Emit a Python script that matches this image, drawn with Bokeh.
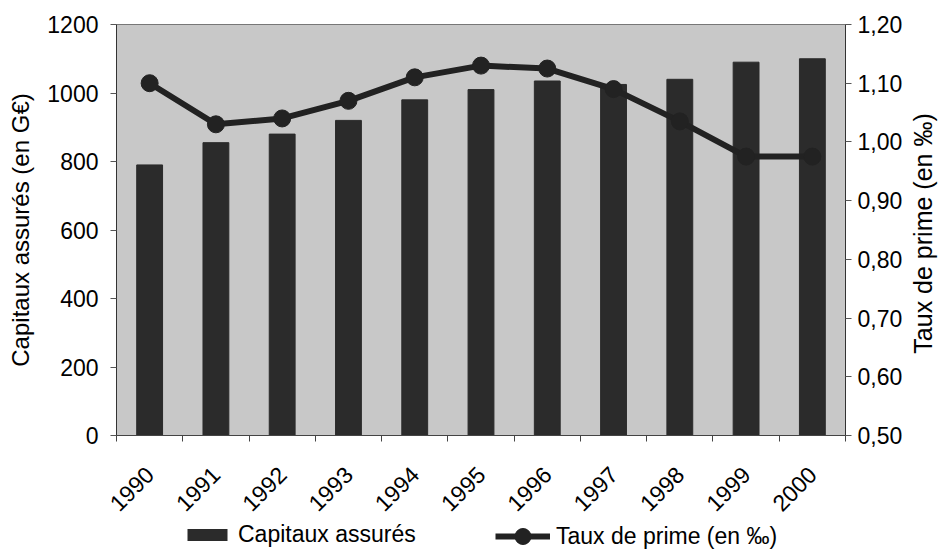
import math
from bokeh.plotting import figure
from bokeh.layouts import column, row
from bokeh.models import (Range1d, LinearAxis, FixedTicker, CustomJSTickFormatter,
                          Legend, LegendItem, ColumnDataSource)
from bokeh.embed import file_html
from bokeh.resources import INLINE

years = ["1990", "1991", "1992", "1993", "1994", "1995", "1996", "1997", "1998", "1999", "2000"]
capitaux = [790, 855, 880, 920, 980, 1010, 1035, 1025, 1040, 1090, 1100]
taux = [1.10, 1.03, 1.04, 1.07, 1.11, 1.13, 1.125, 1.09, 1.035, 0.975, 0.975]
left_ticks = [0, 200, 400, 600, 800, 1000, 1200]
right_ticks = [0.50, 0.60, 0.70, 0.80, 0.90, 1.00, 1.10, 1.20]
series_names = ["Capitaux assurés", "Taux de prime (en ‰)"]
left_title = "Capitaux assurés (en G€)"
right_title = "Taux de prime  (en ‰)"

FONT = "Liberation Sans"
DARK = "#2b2b2b"
LINEC = "#222222"

xc = [i + 0.5 for i in range(len(years))]
bounds = list(range(len(years) + 1))
src = ColumnDataSource(dict(x=xc, cap=capitaux, taux=taux))

P_H = 522
TOTAL_H = 549
BORDER_TOP = 24
BORDER_BOTTOM = 87
p = figure(width=905, height=P_H, output_backend="svg", toolbar_location=None,
           x_range=Range1d(0, len(years)), y_range=Range1d(0, 1200),
           min_border_left=116, min_border_right=57,
           min_border_top=BORDER_TOP, min_border_bottom=BORDER_BOTTOM)
p.extra_y_ranges = {"rate": Range1d(0.5, 1.2)}

p.background_fill_color = "#c8c8c8"
p.border_fill_color = "white"
p.outline_line_color = "#777777"
p.outline_line_width = 1
p.xgrid.visible = False
p.ygrid.visible = False

p.vbar(x="x", top="cap", width=0.39, bottom=0, source=src, fill_color=DARK, line_color=DARK)
p.line(x="x", y="taux", source=src, y_range_name="rate", line_color=LINEC, line_width=6)
p.scatter(x="x", y="taux", source=src, y_range_name="rate", size=17,
          fill_color=LINEC, line_color=LINEC)

# x axis: labels at centers, ticks at category boundaries
xa = p.xaxis[0]
xa.ticker = FixedTicker(ticks=xc, minor_ticks=bounds)
xa.major_label_overrides = {x: y for x, y in zip(xc, years)}
xa.major_label_orientation = math.pi / 4
xa.major_tick_out = 0
xa.major_tick_in = 0
xa.minor_tick_out = 6
xa.minor_tick_in = 0
xa.minor_tick_line_color = "#444444"
xa.axis_line_color = "#444444"
xa.major_label_text_font = FONT
xa.major_label_text_font_size = "23px"
xa.major_label_text_color = "black"
xa.major_label_standoff = 29

ya = p.yaxis[0]
ya.ticker = FixedTicker(ticks=left_ticks)
ya.major_tick_out = 6
ya.major_tick_in = 0
ya.minor_tick_out = 0
ya.minor_tick_in = 0
ya.axis_line_color = "#333333"
ya.major_tick_line_color = "#555555"
ya.major_label_text_font = FONT
ya.major_label_text_font_size = "23px"
ya.major_label_text_color = "black"
ya.major_label_standoff = 12
ya.axis_label = left_title
ya.axis_label_text_font = FONT
ya.axis_label_text_font_size = "24px"
ya.axis_label_text_font_style = "normal"
ya.axis_label_text_color = "black"
ya.axis_label_standoff = 10

ra = LinearAxis(y_range_name="rate")
ra.ticker = FixedTicker(ticks=right_ticks)
ra.formatter = CustomJSTickFormatter(code="return tick.toFixed(2).replace('.', ',');")
ra.major_tick_out = 6
ra.major_tick_in = 0
ra.minor_tick_out = 0
ra.minor_tick_in = 0
ra.axis_line_color = "#333333"
ra.major_tick_line_color = "#555555"
ra.major_label_text_font = FONT
ra.major_label_text_font_size = "23px"
ra.major_label_text_color = "black"
ra.major_label_standoff = 6
p.add_layout(ra, "right")

# narrow strip on the right carrying the right-hand axis title (reads bottom-to-top)
rfig = figure(width=35, height=P_H, output_backend="svg", toolbar_location=None,
              x_range=Range1d(0, 1), y_range=Range1d(0, 1),
              x_axis_location=None, y_axis_location="left",
              min_border_left=0, min_border_right=0,
              min_border_top=BORDER_TOP, min_border_bottom=BORDER_BOTTOM)
rfig.outline_line_color = None
rfig.xgrid.visible = False
rfig.ygrid.visible = False
rfig.background_fill_color = "white"
rax = rfig.yaxis[0]
rax.ticker = FixedTicker(ticks=[])
rax.major_tick_out = 0
rax.major_tick_in = 0
rax.minor_tick_out = 0
rax.minor_tick_in = 0
rax.axis_line_color = None
rax.major_label_standoff = 0
rax.axis_label = right_title
rax.axis_label_text_font = FONT
rax.axis_label_text_font_size = "25px"
rax.axis_label_text_font_style = "normal"
rax.axis_label_text_color = "black"
rax.axis_label_standoff = 0

# legend strip below the chart (its glyphs lie outside the visible ranges)
leg = figure(width=940, height=TOTAL_H - P_H, output_backend="svg", toolbar_location=None,
             x_range=Range1d(100, 111), y_range=Range1d(2000, 3000),
             x_axis_location=None, y_axis_location=None,
             min_border_left=116, min_border_right=92, min_border_top=0, min_border_bottom=0)
leg.outline_line_color = None
leg.xgrid.visible = False
leg.ygrid.visible = False
rb = leg.vbar(x="x", top="cap", width=0.39, bottom=0, source=src, fill_color=DARK, line_color=None)
rl = leg.line(x="x", y="taux", source=src, line_color=LINEC, line_width=6)
rs = leg.scatter(x="x", y="taux", source=src, size=17, fill_color=LINEC, line_color=LINEC)
common = dict(orientation="horizontal", label_text_font=FONT, label_text_font_size="23px",
              label_text_color="black", label_height=23, label_standoff=6,
              padding=0, margin=0, border_line_color=None, background_fill_alpha=0)
legend1 = Legend(items=[LegendItem(label=series_names[0], renderers=[rb])],
                 location=(66, 1), glyph_width=50, glyph_height=15, **common)
legend2 = Legend(items=[LegendItem(label=series_names[1], renderers=[rl, rs])],
                 location=(379, -7), glyph_width=55, glyph_height=40, **common)
leg.add_layout(legend1, "center")
leg.add_layout(legend2, "center")

layout = column(row(p, rfig, spacing=0), leg, spacing=0)
open("out.html", "w").write(file_html(layout, INLINE))
